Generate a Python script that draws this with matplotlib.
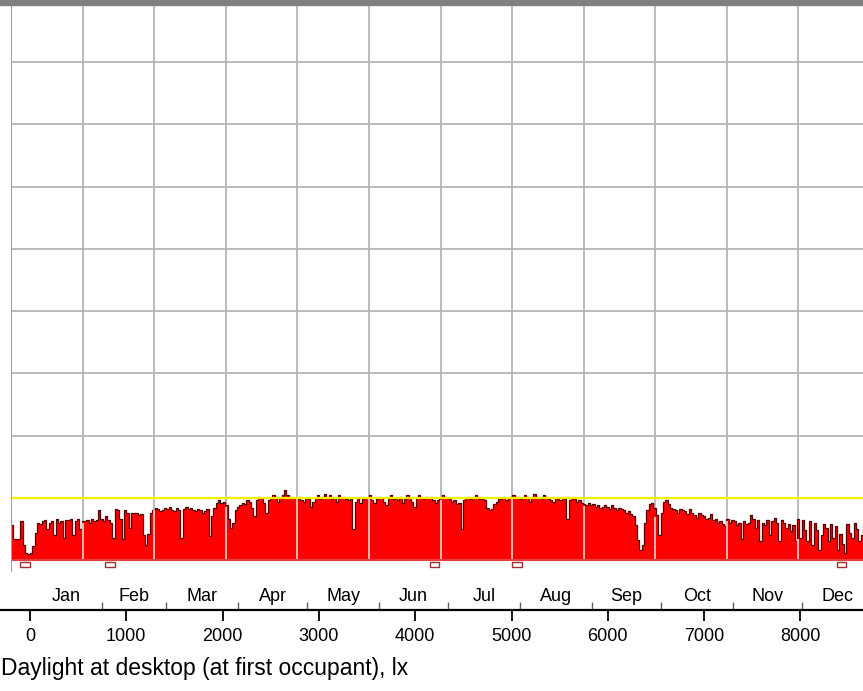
import matplotlib.pyplot as plt
import numpy as np

# daily daylight at desktop (lx), one list per month
jan = [280, 170, 170, 170, 310, 120, 60, 45, 60, 110, 220, 300, 290, 310, 320, 250,
       300, 310, 200, 330, 300, 310, 180, 320, 320, 330, 200, 310, 330, 250, 310]
feb = [310, 320, 300, 330, 310, 320, 400, 330, 310, 350, 320, 300, 180, 410, 400, 330,
       170, 400, 380, 260, 380, 380, 380, 360, 370, 200, 120, 210]
mar = [380, 400, 420, 410, 390, 400, 420, 410, 430, 400, 390, 420, 400, 180, 410, 430,
       410, 420, 400, 390, 410, 400, 380, 390, 410, 190, 350, 420, 460, 480, 460]
apr = [470, 440, 330, 260, 300, 400, 430, 440, 460, 450, 480, 470, 420, 350, 480, 510,
       500, 460, 380, 480, 500, 520, 510, 470, 500, 520, 560, 520, 500, 510]
may = [500, 490, 510, 480, 470, 500, 490, 430, 470, 500, 520, 490, 510, 530, 500, 520,
       490, 500, 470, 520, 500, 510, 490, 480, 500, 250, 470, 500, 460, 490, 500]
jun = [500, 520, 480, 460, 490, 510, 500, 470, 440, 500, 520, 490, 500, 480, 510, 460,
       490, 520, 510, 470, 430, 500, 520, 500, 490, 510, 500, 510, 480, 460]
jul = [480, 500, 520, 510, 500, 490, 470, 480, 450, 460, 250, 480, 500, 510, 490, 500,
       520, 510, 490, 500, 480, 420, 400, 410, 450, 470, 490, 500, 510, 480, 500]
aug = [510, 520, 500, 510, 490, 500, 520, 510, 470, 500, 530, 510, 500, 490, 520, 510,
       490, 480, 470, 500, 490, 480, 500, 490, 330, 480, 500, 490, 470, 480, 460]
sep = [450, 440, 460, 440, 450, 430, 440, 420, 430, 440, 430, 410, 440, 420, 400, 420,
       410, 400, 380, 390, 370, 350, 280, 160, 80, 120, 300, 400, 450, 460]
oct_ = [420, 360, 200, 380, 470, 480, 450, 420, 410, 400, 380, 410, 400, 390, 370, 410,
        380, 360, 340, 380, 360, 350, 330, 340, 370, 320, 330, 300, 310, 290, 270]
nov = [330, 300, 320, 310, 280, 300, 170, 310, 290, 300, 360, 330, 260, 320, 150, 300,
       280, 320, 200, 310, 340, 300, 150, 320, 300, 260, 290, 230, 280, 150]
dec = [330, 180, 320, 240, 150, 310, 120, 300, 240, 80, 200, 290, 260, 150, 290, 180,
       270, 80, 210, 130, 60, 290, 220, 180, 300, 250, 150, 200, 280, 180, 230]

months = ["Jan", "Feb", "Mar", "Apr", "May", "Jun",
          "Jul", "Aug", "Sep", "Oct", "Nov", "Dec"]
days_in_month = [31, 28, 31, 30, 31, 30, 31, 31, 30, 31, 30, 31]
hour_ticks = [0, 1000, 2000, 3000, 4000, 5000, 6000, 7000, 8000]
threshold = 500
marker_days = [6, 42, 180, 215, 353]

daily = np.array(jan + feb + mar + apr + may + jun + jul + aug + sep + oct_ + nov + dec)
days = np.arange(len(daily))

W, H = 863, 691
fig = plt.figure(figsize=(W / 100, H / 100), dpi=100)
font = ["Liberation Sans", "DejaVu Sans"]

# upper chart
ax = fig.add_axes([11 / W, 1 - 578.7 / H, 859 / W, 578.7 / H])
ax.set_xlim(0, 365)
ax.set_ylim(-150, 4500)
ax.axis("off")

grid_x = np.arange(13) * 365 / 12
ax.hlines(np.arange(500, 4501, 500), 0, 365, color="#b4b4b4", lw=1.3, zorder=1)
ax.vlines(grid_x, 0, 4500, color="#b4b4b4", lw=1.3, zorder=1)

ax.bar(days, daily, width=1.0, align="edge", color="#ff0000", lw=0, zorder=2)
ax.step(np.append(days, 365), np.append(daily, daily[-1]), where="post",
        color="#5a0000", lw=0.9, zorder=3)

# pale grid lines seen through the red fill
idx = np.clip(np.round(grid_x).astype(int), 0, len(daily) - 1)
ax.vlines(grid_x[1:-1], 0, daily[idx[1:-1]] - 15, color="#f4d4d4", lw=1.2, zorder=4)

ax.axhline(threshold, color="#f5f000", lw=1.6, zorder=5)
ax.axhline(0, color="#e04040", lw=1.5, zorder=5)
ax.vlines(0, -100, 4500, color="#a0a0a0", lw=1.5, zorder=5)

for d in marker_days:
    ax.add_patch(plt.Rectangle((d - 2, -60), 4, 45, fill=False,
                               edgecolor="#a03030", lw=1.0, zorder=5))

# top frame bar
fig.patches.append(plt.Rectangle((0, 1 - 5 / H), 1, 5 / H, transform=fig.transFigure,
                                 color="#808080", zorder=10))

# lower hour / month axis
hx = fig.add_axes([0, 1 - 610 / H, 1, 30 / H])
hx.set_xlim(-311.5, 8650)
hx.set_ylim(0, 1)
for s in ["top", "left", "right"]:
    hx.spines[s].set_visible(False)
hx.spines["bottom"].set_linewidth(1.6)
hx.set_yticks([])
hx.set_xticks(hour_ticks)
hx.set_xticklabels([str(h) for h in hour_ticks], family=font, fontsize=13)
hx.tick_params(axis="x", which="major", direction="out", length=8, width=1.3, pad=5)

month_edges = np.cumsum([0] + days_in_month) * 24
hx.set_xticks(month_edges[:-1], minor=True)
hx.tick_params(axis="x", which="minor", direction="in", length=6, width=1.0,
               color="#606060")
for i, m in enumerate(months):
    mid = (month_edges[i] + month_edges[i + 1]) / 2
    hx.text(mid, 0.45, m, ha="center", va="center", family=font, fontsize=13)

fig.text(0.001, 1 - 668 / H, "Daylight at desktop (at first occupant), lx",
         ha="left", va="center", family=font, fontsize=16.5)

fig.savefig("out.png", dpi=100)
